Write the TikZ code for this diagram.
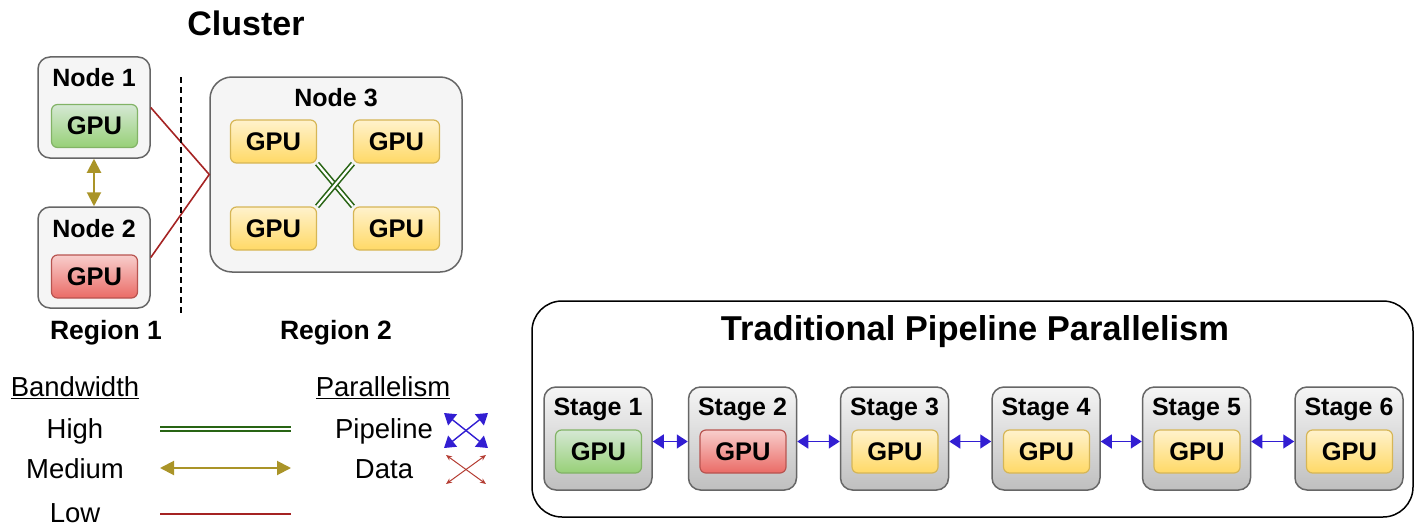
\documentclass[tikz,border=0pt]{standalone}
\usepackage{fontspec}
\setmainfont{Liberation Sans}
\usetikzlibrary{arrows.meta}
\definecolor{boxborder}{RGB}{102,102,102}
\definecolor{boxfill}{RGB}{245,245,245}
\definecolor{grtop}{RGB}{213,232,212}
\definecolor{grbot}{RGB}{151,208,119}
\definecolor{grline}{RGB}{130,179,102}
\definecolor{rdtop}{RGB}{248,206,204}
\definecolor{rdbot}{RGB}{234,107,102}
\definecolor{rdline}{RGB}{184,84,80}
\definecolor{yltop}{RGB}{255,242,204}
\definecolor{ylbot}{RGB}{255,217,102}
\definecolor{ylline}{RGB}{214,182,86}
\definecolor{lowred}{RGB}{165,35,35}
\definecolor{medolive}{RGB}{170,148,40}
\definecolor{highgreen}{RGB}{40,100,20}
\definecolor{pipeblue}{RGB}{50,30,210}
\definecolor{datared}{RGB}{180,60,50}
\tikzset{
  nodebox/.style={draw=boxborder, fill=boxfill, line width=1.5pt, rounded corners=12pt},
  gpubase/.style={rounded corners=6pt, line width=1.2pt, minimum width=86pt, minimum height=43pt,
     font=\fontsize{25.5}{28}\selectfont\bfseries, inner sep=0pt},
  gpugreen/.style={gpubase, draw=grline, top color=grtop, bottom color=grbot},
  gpured/.style={gpubase, draw=rdline, top color=rdtop, bottom color=rdbot},
  gpuyellow/.style={gpubase, draw=ylline, top color=yltop, bottom color=ylbot},
  boldlabel/.style={font=\fontsize{25}{28}\selectfont\bfseries, inner sep=0pt},
  regionlabel/.style={font=\fontsize{26.5}{30}\selectfont\bfseries, inner sep=0pt},
  stagebox/.style={draw=boxborder, line width=1.5pt, rounded corners=12pt, top color=gray!8, bottom color=gray!50,
     minimum width=108pt, minimum height=103pt},
  legend/.style={font=\fontsize{27.5}{30}\selectfont, inner sep=0pt},
  lowlink/.style={draw=lowred, line width=1.6pt},
  medlink/.style={draw=medolive, line width=2pt, {Triangle[length=14pt,width=14pt]}-{Triangle[length=14pt,width=14pt]}},
  highlink/.style={draw=highgreen, double=white, double distance=2.2pt, line width=1.6pt},
  pipelink/.style={draw=pipeblue, line width=1.4pt, {Triangle[length=11pt,width=14pt]}-{Triangle[length=11pt,width=14pt]}},
  datalink/.style={draw=datared, line width=1pt, {Stealth[length=6pt,width=5pt]}-{Stealth[length=6pt,width=5pt]}},
}
\begin{document}
\begin{tikzpicture}[x=1pt,y=-1pt]
\useasboundingbox (0,0) rectangle (1415,527);
% Cluster
\node[font=\fontsize{34}{38}\selectfont\bfseries, inner sep=0pt] (cluster) at (246,23) {Cluster};
\node[nodebox, minimum width=112pt, minimum height=101pt] (n1) at (94,107.5) {};
\node[boldlabel] (n1t) at (94,78) {Node 1};
\node[gpugreen] (n1g) at (94.5,126) {GPU};
\node[nodebox, minimum width=112pt, minimum height=101pt] (n2) at (94,257.5) {};
\node[boldlabel] (n2t) at (94,229) {Node 2};
\node[gpured] (n2g) at (94.5,276.5) {GPU};
\node[nodebox, rounded corners=22pt, minimum width=252pt, minimum height=195pt] (n3) at (336,174.5) {};
\node[boldlabel] (n3t) at (336,98) {Node 3};
\node[gpuyellow] (g1) at (273.5,141.5) {GPU};
\node[gpuyellow] (g2) at (396.5,141.5) {GPU};
\node[gpuyellow] (g3) at (273.5,228.5) {GPU};
\node[gpuyellow] (g4) at (396.5,228.5) {GPU};
\draw[highlink] (g1.south east) -- (g4.north west);
\draw[highlink] (g2.south west) -- (g3.north east);
\draw[lowlink] (n1.east) -- (n3.west) -- (n2.east);
\draw[medlink] (n1.south) -- (n2.north);
\coordinate (dtop) at (181,77);
\coordinate (dbot) at (181,314);
\draw[dashed, line width=1.5pt, dash pattern=on 6pt off 4pt] (dtop) -- (dbot);
\node[regionlabel] (r1) at (106,333) {Region 1};
\node[regionlabel] (r2) at (336,333) {Region 2};
% Legend
\node[legend] (bw) at (75,388) {\underline{Bandwidth}};
\node[legend] (par) at (383,388) {\underline{Parallelism}};
\node[legend] (high) at (75,431) {High};
\node[legend] (med) at (75,469) {Medium};
\node[legend] (low) at (75,513) {Low};
\coordinate (hA) at (160,429); \coordinate (hB) at (291,429);
\coordinate (mA) at (160,468); \coordinate (mB) at (291,468);
\coordinate (lA) at (160,514); \coordinate (lB) at (291,514);
\draw[highlink] (hA) -- (hB);
\draw[medlink] (mA) -- (mB);
\draw[lowlink] (lA) -- (lB);
\node[legend] (pipe) at (384,431) {Pipeline};
\node[legend] (data) at (384,469) {Data};
\coordinate (p1) at (444,413); \coordinate (p2) at (488,448);
\coordinate (p3) at (488,413); \coordinate (p4) at (444,448);
\draw[pipelink] (p1) -- (p2);
\draw[pipelink] (p3) -- (p4);
\coordinate (d1) at (446,455); \coordinate (d2) at (486,484);
\coordinate (d3) at (486,455); \coordinate (d4) at (446,484);
\draw[datalink] (d1) -- (d2);
\draw[datalink] (d3) -- (d4);
% Pipeline
\node[draw=black, line width=1.5pt, rounded corners=30pt, minimum width=881pt, minimum height=216pt] (pp) at (972.5,409) {};
\node[font=\fontsize{34.5}{38}\selectfont\bfseries, inner sep=0pt] (ppt) at (975,332) {Traditional Pipeline Parallelism};
\foreach \i/\x/\c in {1/598/gpugreen, 2/742.5/gpured, 3/894.5/gpuyellow, 4/1046/gpuyellow, 5/1196.5/gpuyellow, 6/1349/gpuyellow} {
  \node[stagebox] (s\i) at (\x,438.5) {};
  \node[boldlabel] (s\i t) at (\x,409) {Stage \i};
  \node[\c] (s\i g) at (\x+0.5,451.5) {GPU};
}
\foreach \a/\b in {1/2,2/3,3/4,4/5,5/6} {
  \draw[pipelink] ([yshift=-3pt]s\a.east) -- ([yshift=-3pt]s\b.west);
}
\end{tikzpicture}
\end{document}
